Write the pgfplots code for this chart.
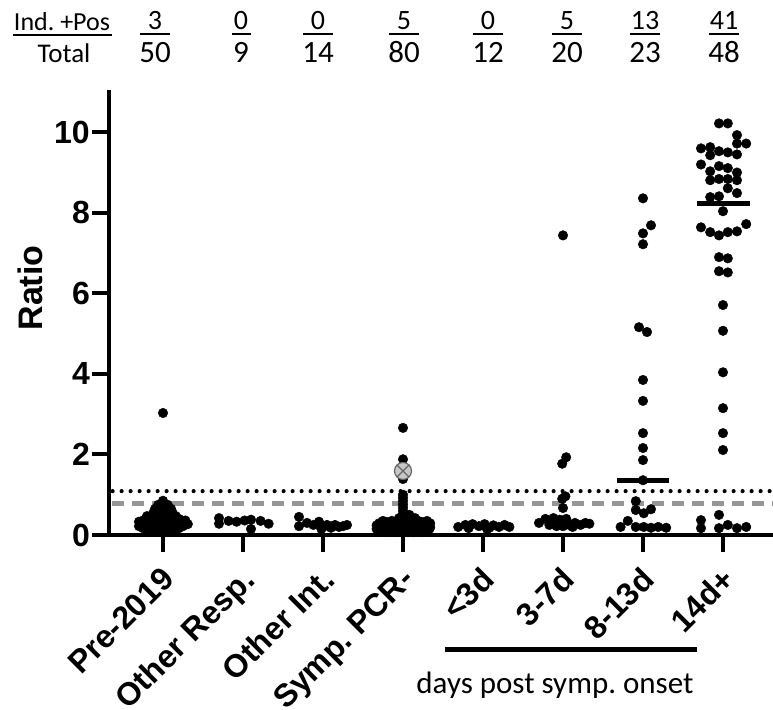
\documentclass[border=0pt]{standalone}
\usepackage{pgfplots}
\pgfplotsset{compat=1.18}
\usepackage{fontspec}
\setmainfont{Liberation Sans}
\newfontfamily\calfont{Carlito}
\usetikzlibrary{plotmarks}
\definecolor{dashgray}{RGB}{150,150,150}
\frenchspacing
\begin{document}
\begin{tikzpicture}[x=1pt,y=1pt]
\useasboundingbox (0,0) rectangle (773,-709);
\begin{axis}[
  at={(109pt,-535pt)}, anchor=south west,
  scale only axis, width=664pt, height=443pt,
  xmin=-0.675, xmax=7.625, ymin=0, ymax=11,
  axis x line*=bottom, axis y line*=left,
  axis line style={line width=4pt, line cap=rect, -},
  tick align=outside, major tick length=17pt,
  tick style={line width=4pt, black},
  xtick={0,1,2,3,4,5,6,7},
  xticklabels={Pre-2019,Other Resp.,Other Int.,Symp. PCR-,<3d,3-7d,8-13d,14d+},
  ytick={0,2,4,6,8,10},
  yticklabels={0,2,4,6,8,10},
  xticklabel style={font=\fontsize{32}{38}\selectfont\bfseries, rotate=45, anchor=north east, inner sep=0pt, yshift=-7.2pt, xshift=-11.5pt},
  yticklabel style={font=\fontsize{32}{38}\selectfont\bfseries, inner sep=2pt},
  clip=false,
  pts/.style={only marks, mark=*, mark size=4.8pt, black, mark options={draw=black, fill=black}},
]
% threshold lines
\addplot[dashgray, line width=5pt, dash pattern=on 12pt off 8pt] coordinates {(-0.64,0.79)(7.625,0.79)};
\addplot[black, line width=4.2pt, line cap=round, dash pattern=on 0pt off 9pt] coordinates {(-0.63,1.09)(7.625,1.09)};
% Pre-2019
\addplot[pts] coordinates {
(0,3.03)
(0,0.85)
(-0.06,0.75)(0.06,0.75)
(-0.1,0.65)(0,0.65)(0.1,0.65)
(-0.12,0.55)(0,0.55)(0.12,0.55)
(-0.2,0.47)(-0.08,0.47)(0.04,0.47)(0.16,0.47)
(-0.14,0.40)(-0.03,0.40)(0.08,0.40)(0.2,0.40)
(-0.24,0.37)(0.28,0.36)
(-0.3,0.33)(-0.19,0.33)(-0.08,0.33)(0.03,0.33)(0.14,0.33)(0.25,0.33)
(-0.25,0.27)(-0.13,0.27)(-0.02,0.27)(0.09,0.27)(0.2,0.27)(0.31,0.27)
(-0.3,0.22)(-0.19,0.22)(-0.08,0.22)(0.03,0.22)(0.14,0.22)(0.25,0.22)
(-0.25,0.17)(-0.13,0.17)(-0.02,0.17)(0.09,0.17)(0.2,0.17)
(-0.19,0.12)(-0.08,0.12)(0.03,0.12)(0.14,0.12)
(-0.05,0.08)(0.08,0.08)(0,0.05)
};
% Other Resp.
\addplot[pts] coordinates {
(0.7,0.42)(0.7,0.28)(0.82,0.35)(0.92,0.33)(1.02,0.36)(1.1,0.38)(1.1,0.15)(1.22,0.35)(1.32,0.28)
};
% Other Int.
\addplot[pts] coordinates {
(1.7,0.45)(1.7,0.22)(1.8,0.3)(1.88,0.25)(1.95,0.33)(2.0,0.2)(2.05,0.25)(2.1,0.18)(2.15,0.25)(2.2,0.2)(2.25,0.22)(2.3,0.25)(1.98,0.15)(2.12,0.22)
};
% Symp. PCR-
\addplot[pts] coordinates {
(3,2.66)(3,1.88)(3,1.39)
(3,1.0)(3,0.92)(3,0.84)(3,0.76)(3,0.68)(3,0.6)(3,0.52)(3.08,0.5)
(2.95,0.42)(3.05,0.42)(3.15,0.42)
(2.75,0.35)(2.86,0.35)(2.97,0.35)(3.08,0.35)(3.19,0.35)(3.3,0.35)
(2.8,0.32)(2.91,0.32)(3.02,0.32)(3.13,0.32)(3.24,0.32)
(2.7,0.29)(2.81,0.29)(2.92,0.29)(3.03,0.29)(3.14,0.29)(3.25,0.29)(3.34,0.29)
(2.75,0.265)(2.86,0.265)(2.97,0.265)(3.08,0.265)(3.19,0.265)(3.3,0.265)
(2.67,0.24)(2.78,0.24)(2.89,0.24)(3.0,0.24)(3.11,0.24)(3.22,0.24)(3.33,0.24)
(2.75,0.21)(2.86,0.21)(2.97,0.21)(3.08,0.21)(3.19,0.21)
(2.7,0.19)(2.81,0.19)(2.92,0.19)(3.03,0.19)(3.14,0.19)(3.25,0.19)(3.34,0.19)
(2.67,0.15)(2.78,0.15)(2.89,0.15)(3.0,0.15)(3.11,0.15)(3.22,0.15)(3.33,0.15)
(2.75,0.13)(2.86,0.13)(2.97,0.13)(3.08,0.13)(3.19,0.13)
(2.72,0.11)(2.83,0.11)(2.94,0.11)(3.05,0.11)(3.16,0.11)(3.27,0.11)
(2.8,0.07)(2.91,0.07)(3.02,0.07)(3.13,0.07)(3.24,0.07)
};
\addplot[only marks, mark=otimes*, mark size=8.5pt, mark options={fill=black!22, draw=black!60, line width=1.2pt}] coordinates {(3,1.59)};
% <3d
\addplot[pts] coordinates {
(3.69,0.2)(3.78,0.25)(3.87,0.27)(3.95,0.22)(4.02,0.27)(4.08,0.18)(4.13,0.24)(4.2,0.2)(4.27,0.25)(4.33,0.2)(3.82,0.17)(4.05,0.15)
};
% 3-7d
\addplot[pts] coordinates {
(5,7.44)(5.04,1.93)(4.99,1.77)(5.03,0.96)(4.99,0.9)(5,0.67)
(4.7,0.3)(4.78,0.4)(4.88,0.42)(4.96,0.38)(5.04,0.4)(4.83,0.25)(4.92,0.22)(5.0,0.22)(5.08,0.25)(5.15,0.3)(5.22,0.25)(5.28,0.3)(5.33,0.28)(5.12,0.2)
};
% 8-13d
\addplot[pts] coordinates {
(6,8.36)(6.1,7.69)(6,7.49)(6,7.22)(5.95,5.16)(6.05,5.04)(6,3.85)(6,3.33)(6,2.53)(6,2.16)(6,1.86)(6,1.36)
(5.91,0.84)(5.91,0.62)(6.01,0.54)(6.1,0.64)(5.81,0.35)(5.72,0.2)(5.91,0.2)(6.01,0.2)(6.1,0.18)(6.19,0.2)(6.29,0.18)
};
% 14d+
\addplot[pts] coordinates {
(6.95,10.22)(7.06,10.22)
(7.175,9.93)
(7.175,9.72)(7.29,9.72)
(6.725,9.6)(6.84,9.63)
(6.84,9.43)
(6.95,9.53)(7.06,9.5)(7.175,9.45)
(6.725,9.2)
(6.84,9.03)(6.95,9.16)(7.06,9.11)(7.175,9.0)
(6.84,8.81)(6.95,8.84)(7.06,8.84)(7.175,8.81)
(7.06,8.61)
(6.84,8.39)(6.95,8.41)(7.175,8.49)
(7,8.04)
(6.725,7.64)(6.84,7.52)(6.95,7.44)(7.06,7.52)(7.175,7.54)(7.29,7.72)
(6.95,6.9)(7.06,6.87)
(6.95,6.55)(7.06,6.52)
(7,5.71)(7,5.07)(7,4.04)(7,3.15)(7,2.53)(7,2.11)
(6.725,0.37)(6.725,0.17)(6.95,0.5)(6.95,0.17)(7.06,0.25)(7.175,0.17)(7.29,0.2)
};
% medians
\addplot[black, line width=5pt] coordinates {(5.67,1.36)(6.33,1.36)};
\addplot[black, line width=5pt] coordinates {(6.68,8.22)(7.34,8.22)};
\end{axis}
% y label
\node[rotate=90, font=\fontsize{34}{40}\selectfont\bfseries] at (30,-288) {Ratio};
% header
\node[anchor=base, font=\calfont\fontsize{26}{30}\selectfont, inner sep=0pt] at (62,-31) {Ind. +Pos};
\draw[line width=2pt] (13,-35) -- (112,-35);
\node[anchor=base, font=\calfont\fontsize{27}{30}\selectfont, inner sep=0pt] at (64,-63) {Total};
\foreach \xx/\num/\den/\w in {155/3/50/15, 241/0/9/9.5, 318/0/14/15, 404/5/80/15, 488/0/12/15, 567/5/20/15, 645/13/23/15, 724/41/48/15} {
  \node[anchor=base, font=\calfont\fontsize{28}{30}\selectfont, inner sep=0pt] at (\xx,-30) {\num};
  \draw[line width=2pt] (\xx-\w,-34) -- (\xx+\w,-34);
  \node[anchor=base, font=\calfont\fontsize{31}{34}\selectfont, inner sep=0pt] at (\xx,-63) {\den};
}
% bottom bracket
\draw[line width=5pt] (445,-649) -- (697,-649);
\node[anchor=base, font=\calfont\fontsize{31}{36}\selectfont, inner sep=0pt] at (555,-693) {days post symp. onset};
\end{tikzpicture}
\end{document}
